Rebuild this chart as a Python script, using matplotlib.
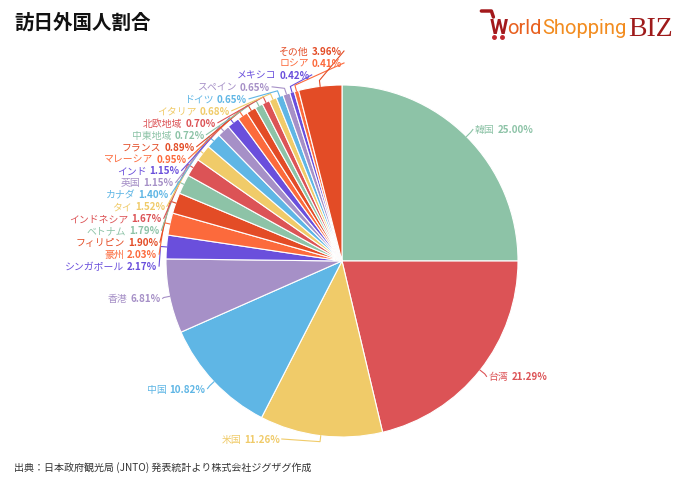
import numpy
from matplotlib import pyplot

pyplot.rcParams['font.family'] = ['Noto Sans CJK JP', 'DejaVu Sans']

# data (share of foreign visitors to Japan, %)
countries = ['韓国', '台湾', '米国', '中国', '香港', 'シンガポール', '豪州', 'フィリピン', 'ベトナム',
             'インドネシア', 'タイ', 'カナダ', '英国', 'インド', 'マレーシア', 'フランス', '中東地域',
             '北欧地域', 'イタリア', 'ドイツ', 'スペイン', 'メキシコ', 'ロシア', 'その他']
shares = [25.00, 21.29, 11.26, 10.82, 6.81, 2.17, 2.03, 1.90, 1.79, 1.67, 1.52, 1.40, 1.15, 1.15,
          0.95, 0.89, 0.72, 0.70, 0.68, 0.65, 0.65, 0.42, 0.41, 3.96]
palette = ['#8dc3a7', '#dc5356', '#f0cb69', '#5fb6e5', '#a690c7', '#6a4fdc', '#fc6a3c', '#e34c26']
title = '訪日外国人割合'
source = '出典：日本政府観光局 (JNTO) 発表統計より株式会社ジグザグ作成'

W, H = 680, 485
cx, cy, r = 342, 262, 176

fig = pyplot.figure(figsize=(W / 100, H / 100), dpi=100)
ax = fig.add_axes([0, 0, 1, 1])
colors = [palette[i % len(palette)] for i in range(len(shares))]

# y axis flipped so that everything is in pixels from the top left,
# startangle -90 + counterclock then runs clockwise from 12 o'clock
wedges, _ = ax.pie(shares, colors=colors, startangle=-90, counterclock=True, radius=r,
                   center=(cx, cy), frame=True,
                   wedgeprops=dict(edgecolor='white', linewidth=0.8))
ax.set_xlim(0, W)
ax.set_ylim(H, 0)
ax.axis('off')

renderer = fig.canvas.get_renderer()


def width(t):
    return t.get_window_extent(renderer).width


def spread(ys, gap, top, bottom):
    # merge overlapping labels into packed groups centred on their natural spot
    order = numpy.argsort(ys)
    nat = [ys[i] for i in order]
    groups = [[k] for k in range(len(nat))]
    while True:
        pos = []
        for g in groups:
            n = len(g)
            first = numpy.mean([nat[k] for k in g]) - (n - 1) * gap / 2
            first = min(max(first, top), bottom - (n - 1) * gap)
            pos.append(first)
        merged = False
        for j in range(len(groups) - 1):
            if pos[j] + len(groups[j]) * gap > pos[j + 1]:
                groups[j] = groups[j] + groups[j + 1]
                del groups[j + 1]
                merged = True
                break
        if not merged:
            break
    out = [0.0] * len(ys)
    for g, first in zip(groups, pos):
        for m, k in enumerate(g):
            out[order[k]] = first + m * gap
    return out


mids = [numpy.radians((w.theta1 + w.theta2) / 2) for w in wedges]
natural = [cy + (r + 10) * numpy.sin(a) for a in mids]
left = [i for i in range(len(shares)) if numpy.cos(mids[i]) < 0]
right = [i for i in range(len(shares)) if numpy.cos(mids[i]) >= 0]

label_y = {}
for side in (left, right):
    ys = spread([natural[i] for i in side], 11.95, 52, 440)
    for i, y in zip(side, ys):
        label_y[i] = y

fs = 7.1
for i in range(len(shares)):
    y = label_y[i]
    dy = y - cy
    off = 185 * numpy.sqrt(max(0.0, 1 - dy ** 2 / 189 ** 2))
    a = mids[i]
    edge = (cx + r * numpy.cos(a), cy + r * numpy.sin(a))
    elbow = (cx + (r + 6) * numpy.cos(a), cy + (r + 6) * numpy.sin(a))
    pct = f'{shares[i]:.2f}%'
    if i in left:
        x_end = cx - off
        t = ax.text(x_end, y, pct, ha='right', va='center', fontsize=fs, fontweight='bold',
                    color=colors[i])
        ax.text(x_end - width(t) - 3, y, countries[i], ha='right', va='center', fontsize=fs,
                color=colors[i])
        anchor = x_end + 2
    else:
        x_start = cx + off
        t = ax.text(x_start, y, countries[i], ha='left', va='center', fontsize=fs,
                    color=colors[i])
        ax.text(x_start + width(t) + 3, y, pct, ha='left', va='center', fontsize=fs,
                fontweight='bold', color=colors[i])
        anchor = x_start - 2
    ax.plot([anchor, elbow[0], edge[0]], [y, elbow[1], edge[1]], color=colors[i], lw=0.8,
            solid_joinstyle='round')

# title and source
ax.text(14, 23, title, fontsize=14, fontweight='bold', color='#111111', va='center', ha='left')
ax.text(14, 468, source, fontsize=7.2, color='#333333', va='center', ha='left')

# logo
x = 673
t = ax.text(x, 36, 'BIZ', fontsize=20, color='#9e1a1a', family='Liberation Serif',
            ha='right', va='baseline')
x -= width(t) + 2
t = ax.text(x, 34, 'Shopping', fontsize=14.5, color='#f28c1f', family='Roboto',
            ha='right', va='baseline')
x -= width(t)
t = ax.text(x, 34, 'orld', fontsize=14.5, color='#e8601f', family='Roboto',
            ha='right', va='baseline')
x -= width(t)
t = ax.text(x, 34, 'W', fontsize=15, color='#a3191c', family='Roboto', fontweight='bold',
            ha='right', va='baseline')
wx = x - width(t)
ax.plot([wx - 8, wx + 2, wx + 4], [12, 12, 18], color='#a3191c', lw=2.5, solid_capstyle='round')
ax.plot([wx + 5, wx + 13], [38, 38], 'o', color='#c0272d', ms=2.5)

fig.savefig('out.png', dpi=100)
